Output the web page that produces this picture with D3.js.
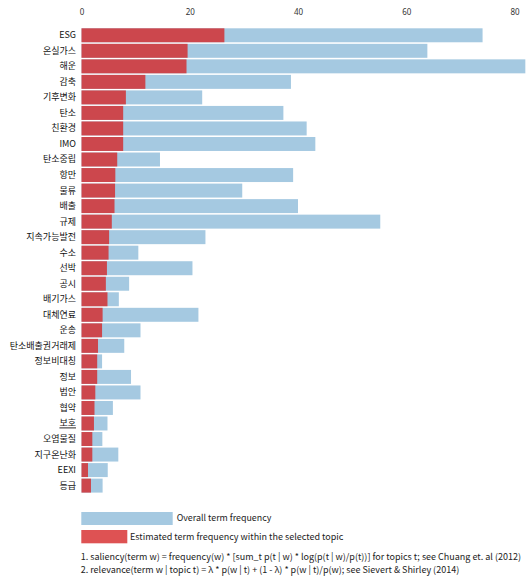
<!DOCTYPE html>
<html>
<head>
<meta charset="utf-8">
<script src="https://cdn.jsdelivr.net/npm/d3@7"></script>
<style>
  html, body { margin: 0; padding: 0; background: #fff; }
  svg { display: block; }
  text { font-family: "Noto Sans CJK KR", "Noto Sans", sans-serif; }
</style>
</head>
<body>
<svg id="chart" width="528" height="578"></svg>
<script>
const terms = ["ESG","온실가스","해운","감축","기후변화","탄소","친환경","IMO","탄소중립","항만","물류","배출","규제","지속가능발전","수소","선박","공시","배기가스","대체연료","운송","탄소배출권거래제","정보비대칭","정보","법안","협약","보호","오염물질","지구온난화","EEXI","등급"];
const overallFreq = [74.1,63.9,82.0,38.7,22.3,37.3,41.6,43.2,14.5,39.1,29.7,40.0,55.2,22.9,10.5,20.5,8.8,6.9,21.6,10.9,7.9,3.8,9.15,10.9,5.8,4.8,3.85,6.8,4.85,3.9];
const topicFreq = [26.4,19.6,19.4,11.8,8.2,7.7,7.7,7.7,6.6,6.25,6.2,6.1,5.6,5.1,5.0,4.7,4.5,4.8,3.9,3.8,3.05,2.9,2.9,2.55,2.4,2.3,2.0,2.0,1.2,1.75];
const xTicks = [0,20,40,60,80];
const legendLabels = ["Overall term frequency","Estimated term frequency within the selected topic"];
const footnotes = [
  "1. saliency(term w) = frequency(w) * [sum_t p(t | w) * log(p(t | w)/p(t))] for topics t; see Chuang et. al (2012)",
  "2. relevance(term w | topic t) = \u03BB * p(w | t) + (1 - \u03BB) * p(w | t)/p(w); see Sievert & Shirley (2014)"
];
const underlined = ["보호"];

const svg = d3.select("#chart");
const blue = "#1f77b4", red = "#d62728";

const x = d3.scaleLinear().domain([0, 80]).range([81.5, 514.5]);
const y = d3.scaleBand().domain(terms).range([28.3, 492.6]).paddingInner(0.1).paddingOuter(0);

// axis
const axis = d3.axisTop(x).tickValues(xTicks).tickSize(0).tickPadding(3);
const ag = svg.append("g").attr("transform", "translate(0,18)").call(axis);
ag.select(".domain").remove();
ag.selectAll("text").attr("font-size", "8px").attr("fill", "#333")
  .style("font-family", "'Noto Sans', sans-serif");

// overall bars
svg.append("g").selectAll("rect").data(terms).join("rect")
  .attr("x", x(0)).attr("y", d => y(d))
  .attr("width", (d, i) => x(overallFreq[i]) - x(0))
  .attr("height", y.bandwidth())
  .attr("fill", blue).attr("opacity", 0.4);

// topic bars
svg.append("g").selectAll("rect").data(terms).join("rect")
  .attr("x", x(0)).attr("y", d => y(d))
  .attr("width", (d, i) => x(topicFreq[i]) - x(0))
  .attr("height", y.bandwidth())
  .attr("fill", red).attr("opacity", 0.8);

// term labels
svg.append("g").selectAll("text").data(terms).join("text")
  .attr("x", 76).attr("y", d => y(d) + y.bandwidth() / 2)
  .attr("dy", "0.33em")
  .attr("text-anchor", "end")
  .attr("font-size", "9px")
  .attr("fill", "#111")
  .style("text-decoration", d => underlined.includes(d) ? "underline" : null)
  .text(d => d);

// legend
const lg = svg.append("g");
lg.append("rect").attr("x", 81.3).attr("y", 512).attr("width", 91.4).attr("height", 13)
  .attr("fill", blue).attr("opacity", 0.4);
lg.append("text").attr("x", 176.7).attr("y", 521).attr("font-size", "8.9px").attr("fill", "#222")
  .text(legendLabels[0]);
lg.append("rect").attr("x", 81.3).attr("y", 530).attr("width", 46).attr("height", 13.3)
  .attr("fill", red).attr("opacity", 0.8);
lg.append("text").attr("x", 130).attr("y", 539.5).attr("font-size", "9px").attr("fill", "#222")
  .text(legendLabels[1]);

svg.append("g").selectAll("text").data(footnotes).join("text")
  .attr("x", 80.7).attr("y", (d, i) => 560 + i * 13)
  .attr("font-size", "9px").attr("fill", "#222")
  .text(d => d);
</script>
</body>
</html>
